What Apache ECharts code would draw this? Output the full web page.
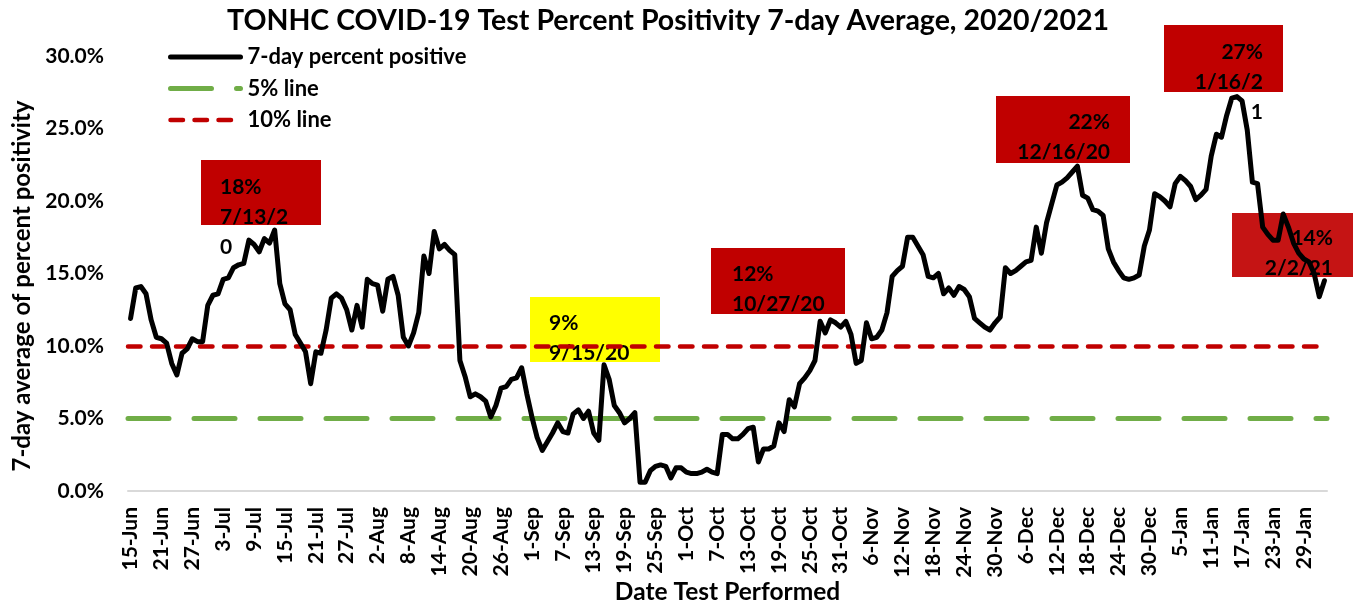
<!DOCTYPE html>
<html>
<head>
<meta charset="utf-8">
<title>TONHC COVID-19 Test Percent Positivity</title>
<script src="https://cdn.jsdelivr.net/npm/echarts@6/dist/echarts.min.js"></script>
<style>
  html, body { margin: 0; padding: 0; background: #fff; }
  #main { width: 1354px; height: 602px; }
</style>
</head>
<body>
<div id="main"></div>
<script>
// 7-day percent positive, one array per month
var jun20 = [11.9, 14.0, 14.1, 13.6, 11.8, 10.6, 10.5, 10.2, 8.8, 8.0, 9.5, 9.8, 10.5, 10.3, 10.3, 12.8];
var jul20 = [13.5, 13.6, 14.6, 14.7, 15.4, 15.6, 15.7, 17.3, 17.0, 16.5, 17.4, 17.1, 18.0, 14.3, 12.9, 12.5,
             10.8, 10.2, 9.6, 7.4, 9.6, 9.5, 11.1, 13.3, 13.6, 13.3, 12.5, 11.1, 12.8, 11.3, 14.6];
var aug20 = [14.3, 14.2, 12.4, 14.6, 14.8, 13.5, 10.6, 10.0, 10.9, 12.3, 16.2, 15.0, 17.9, 16.7, 17.0, 16.6,
             16.3, 9.0, 7.9, 6.5, 6.7, 6.5, 6.2, 5.1, 5.9, 7.1, 7.2, 7.7, 7.8, 8.5, 6.7];
var sep20 = [5.1, 3.7, 2.8, 3.4, 4.0, 4.7, 4.1, 4.0, 5.3, 5.6, 5.0, 5.5, 4.0, 3.5, 8.7, 7.7,
             5.9, 5.4, 4.7, 5.0, 5.4, 0.6, 0.6, 1.4, 1.7, 1.8, 1.7, 0.9, 1.6, 1.6];
var oct20 = [1.3, 1.2, 1.2, 1.3, 1.5, 1.3, 1.2, 3.9, 3.9, 3.6, 3.6, 3.9, 4.3, 4.4, 2.0, 2.9,
             2.9, 3.1, 4.7, 4.1, 6.3, 5.8, 7.4, 7.8, 8.3, 9.0, 11.7, 10.9, 11.8, 11.6, 11.3];
var nov20 = [11.7, 10.8, 8.8, 9.0, 11.6, 10.5, 10.6, 11.1, 12.3, 14.8, 15.2, 15.5, 17.5, 17.5, 16.9, 16.3,
             14.8, 14.7, 15.0, 13.6, 14.0, 13.5, 14.1, 13.9, 13.4, 11.9, 11.6, 11.3, 11.1, 11.6];
var dec20 = [12.0, 15.4, 15.0, 15.2, 15.5, 15.8, 15.9, 18.2, 16.4, 18.5, 19.8, 21.1, 21.3, 21.6, 22.0, 22.4,
             20.4, 20.2, 19.4, 19.3, 19.0, 16.7, 15.8, 15.2, 14.7, 14.6, 14.7, 14.9, 16.9, 18.0, 20.5];
var jan21 = [20.3, 20.0, 19.6, 21.2, 21.7, 21.4, 21.0, 20.1, 20.4, 20.8, 23.1, 24.6, 24.4, 25.9, 27.1, 27.2,
             26.9, 24.9, 21.3, 21.2, 18.2, 17.7, 17.3, 17.3, 19.1, 18.2, 17.1, 16.4, 16.0, 15.8, 15.0];
var feb21 = [13.4, 14.5];

var fiveLine = 5;
var tenLine = 10;

// date labels: 15-Jun-2020 .. 2-Feb-2021
var monthNames = ['Jun', 'Jul', 'Aug', 'Sep', 'Oct', 'Nov', 'Dec', 'Jan', 'Feb'];
var monthData = [jun20, jul20, aug20, sep20, oct20, nov20, dec20, jan21, feb21];
var firstDay = [15, 1, 1, 1, 1, 1, 1, 1, 1];

var dates = [];
var positivity = [];
monthData.forEach(function (arr, m) {
    arr.forEach(function (v, i) {
        dates.push((firstDay[m] + i) + '-' + monthNames[m]);
        positivity.push(v);
    });
});

var FONT = 'Lato';
var GREEN_DASH = { color: '#70AD47', width: 5, type: [41, 25], cap: 'round' };
var RED_DASH = { color: '#C00000', width: 4.5, type: [12.5, 11.5], cap: 'round' };

var myChart = echarts.init(document.getElementById('main'));

// callout boxes
function callout(x, y, w, h, fill, lines, tx, ty, align) {
    return {
        type: 'group',
        children: [
            { type: 'rect', shape: { x: x, y: y, width: w, height: h }, style: { fill: fill } },
            {
                type: 'text', x: tx, y: ty,
                style: {
                    text: lines, fill: '#000', font: 'bold 21px ' + FONT,
                    lineHeight: 30, align: align, verticalAlign: 'top'
                }
            }
        ]
    };
}

option = {
    backgroundColor: '#fff',
    animation: false,
    title: {
        text: 'TONHC COVID-19 Test Percent Positivity 7-day Average, 2020/2021',
        left: 227,
        top: 6,
        padding: 0,
        textStyle: { fontFamily: FONT, fontWeight: 'bold', fontSize: 28.5, color: '#000' }
    },
    legend: {
        orient: 'vertical',
        left: 168,
        top: 46,
        itemWidth: 70,
        itemHeight: 14,
        itemGap: 9.5,
        padding: 0,
        itemStyle: { opacity: 0 },
        data: [
            { name: '7-day percent positive', lineStyle: { color: '#000', width: 5, cap: 'round' } },
            { name: '5% line', lineStyle: GREEN_DASH },
            { name: '10% line', lineStyle: RED_DASH }
        ],
        textStyle: { fontFamily: FONT, fontWeight: 'bold', fontSize: 22, color: '#000', padding: [0, 0, 0, 2] }
    },
    grid: { left: 128, right: 27, top: 56, bottom: 111, outerBoundsMode: 'none' },
    xAxis: {
        type: 'category',
        data: dates,
        boundaryGap: true,
        name: 'Date Test Performed',
        nameLocation: 'middle',
        nameGap: 89,
        nameMoveOverlap: false,
        nameTextStyle: { fontFamily: FONT, fontWeight: 'bold', fontSize: 24.5, color: '#000' },
        axisLine: { lineStyle: { color: '#D9D9D9', width: 2 } },
        axisTick: { show: false },
        axisLabel: {
            interval: 5,
            rotate: 90,
            margin: 16,
            fontFamily: FONT, fontWeight: 'bold', fontSize: 21, color: '#000'
        },
        splitLine: { show: false }
    },
    yAxis: {
        type: 'value',
        min: 0,
        max: 30,
        interval: 5,
        name: '7-day average of percent positivity',
        nameLocation: 'middle',
        nameGap: 94,
        nameMoveOverlap: false,
        nameTextStyle: { fontFamily: FONT, fontWeight: 'bold', fontSize: 24, color: '#000', padding: [0, 25, 0, 0] },
        axisLine: { show: false },
        axisTick: { show: false },
        splitLine: { show: false },
        axisLabel: {
            margin: 24,
            fontFamily: FONT, fontWeight: 'bold', fontSize: 21, color: '#000',
            formatter: function (v) { return v.toFixed(1) + '%'; }
        }
    },
    series: [
        {
            name: '7-day percent positive',
            type: 'line',
            data: positivity,
            symbol: 'none',
            z: 5,
            itemStyle: { color: '#000' },
            lineStyle: { color: '#000', width: 5, cap: 'round', join: 'round' }
        },
        {
            name: '5% line',
            type: 'line',
            data: [],
            symbol: 'none',
            z: 2,
            itemStyle: { color: '#70AD47' },
            lineStyle: GREEN_DASH,
            markLine: {
                silent: true,
                symbol: 'none',
                label: { show: false },
                lineStyle: GREEN_DASH,
                data: [{ yAxis: fiveLine }]
            }
        },
        {
            name: '10% line',
            type: 'line',
            data: [],
            symbol: 'none',
            z: 2,
            itemStyle: { color: '#C00000' },
            lineStyle: RED_DASH,
            markLine: {
                silent: true,
                symbol: 'none',
                label: { show: false },
                lineStyle: RED_DASH,
                data: [{ yAxis: tenLine }]
            }
        }
    ],
    graphic: [
        callout(201, 160, 120, 65, '#C00000', '18%\n7/13/2\n0', 220, 172, 'left'),
        callout(530, 297, 130, 65, '#FFFF00', '9%\n9/15/20', 549, 308, 'left'),
        callout(711, 248, 134, 66, '#C00000', '12%\n10/27/20', 732, 259, 'left'),
        callout(996, 96, 134, 67, '#C00000', '22%\n12/16/20', 1110, 107, 'right'),
        callout(1164, 25, 119, 67, '#C00000', '27%\n1/16/2\n1', 1263, 37, 'right'),
        callout(1232, 213, 121, 64, 'rgba(192,0,0,0.92)', '14%\n2/2/21', 1333, 223, 'right')
    ]
};
myChart.setOption(option);
</script>
</body>
</html>
